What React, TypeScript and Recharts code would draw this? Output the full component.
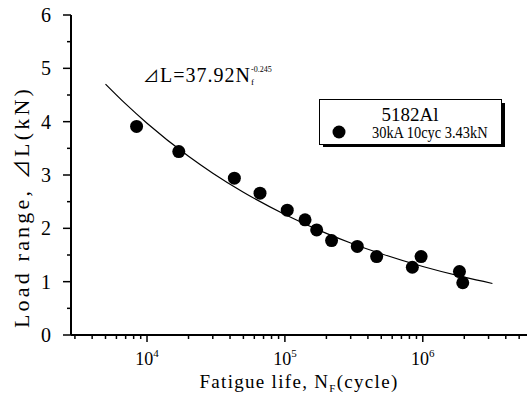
import React from 'react';
import { ComposedChart, Line, Scatter, XAxis, YAxis, Legend, Customized } from 'recharts';

// measured fatigue lives (cycles) and load ranges (kN)
const cycles = [8400, 17000, 43000, 66000, 104000, 140000, 170000, 218000, 335000, 463000, 840000, 972000, 1845000, 1950000];
const loadRange = [3.91, 3.44, 2.94, 2.66, 2.34, 2.16, 1.97, 1.77, 1.66, 1.47, 1.27, 1.47, 1.19, 0.98];

// fitted curve dL = 37.92 Nf^-0.245
const fitCycles = [5000, 7000, 10000, 20000, 30000, 50000, 100000, 200000, 300000, 500000, 1000000, 2000000, 3200000];
const fitLoad = [4.705, 4.333, 3.971, 3.351, 3.034, 2.677, 2.259, 1.906, 1.726, 1.523, 1.285, 1.084, 0.966];

const xTicks = [
  3000, 4000, 5000, 6000, 7000, 8000, 9000,
  10000, 20000, 30000, 40000, 50000, 60000, 70000, 80000, 90000,
  100000, 200000, 300000, 400000, 500000, 600000, 700000, 800000, 900000,
  1000000, 2000000, 3000000, 4000000, 5000000,
];
const decades = [10000, 100000, 1000000];
const decadeExp = ['4', '5', '6'];
const yTicks = [0, 0.5, 1, 1.5, 2, 2.5, 3, 3.5, 4, 4.5, 5, 5.5, 6];

const seriesName = '5182Al';
const conditionText = '30kA 10cyc 3.43kN';

const points = cycles.map((n, i) => ({ n, load: loadRange[i] }));
const fit = fitCycles.map((n, i) => ({ n, fit: fitLoad[i] }));

const FONT = "'Liberation Serif', 'Times New Roman', serif";
const DELTA_FONT = "'Noto Sans CJK JP', 'DejaVu Sans', sans-serif";
const serif = { fontFamily: FONT };
const delta = { fontFamily: DELTA_FONT };

const BottomTick = ({ x, y, payload }: any) => {
  const idx = decades.indexOf(payload.value);
  const major = idx >= 0;
  return (
    <g>
      <line x1={x} y1={y} x2={x} y2={y + (major ? 7 : 4)} stroke="#000" strokeWidth={1.5} />
      {major && (
        <text x={x} y={y + 30} textAnchor="middle" style={serif} fontSize={18} fill="#000">
          10<tspan dy={-8} fontSize={11}>{decadeExp[idx]}</tspan>
        </text>
      )}
    </g>
  );
};

const TopTick = ({ x, y, payload }: any) => {
  const major = decades.includes(payload.value);
  return <line x1={x} y1={y} x2={x} y2={y + (major ? 7 : 4)} stroke="#000" strokeWidth={1.5} />;
};

const LeftTick = ({ x, y, payload }: any) => {
  const whole = Number.isInteger(payload.value);
  return (
    <g>
      <line x1={x - (whole ? 8 : 4)} y1={y} x2={x} y2={y} stroke="#000" strokeWidth={1.5} />
      {whole && (
        <text x={x - 20} y={y + 7} textAnchor="end" style={serif} fontSize={20} fill="#000">
          {payload.value}
        </text>
      )}
    </g>
  );
};

const RightTick = ({ x, y, payload }: any) => {
  const whole = Number.isInteger(payload.value);
  return <line x1={x - (whole ? 6 : 3)} y1={y} x2={x} y2={y} stroke="#000" strokeWidth={1.5} />;
};

const Dot = ({ cx, cy }: any) => <circle cx={cx} cy={cy} r={6.5} fill="#000" />;

// framed legend with a solid drop shadow on the right and bottom
const LegendBox = ({ payload }: any) => {
  const item = (payload || []).find((p: any) => p.value === seriesName);
  return (
    <svg width={187} height={48}>
      <rect x={182} y={4} width={4} height={44} fill="#000" />
      <rect x={4} y={45} width={182} height={3} fill="#000" />
      <rect x={0.5} y={0.5} width={182} height={45} fill="#fff" stroke="#000" strokeWidth={1} />
      <text x={91} y={22} textAnchor="middle" style={serif} fontSize={19} fill="#000">
        {item ? item.value : seriesName}
      </text>
      <circle cx={20} cy={33} r={6.5} fill="#000" />
      <text
        x={0}
        y={0}
        transform="translate(53, 39) scale(0.9, 1)"
        style={serif}
        fontSize={16}
        fill="#000"
      >
        {conditionText}
      </text>
    </svg>
  );
};

const Annotations = () => (
  <g fill="#000">
    <text x={143} y={82} style={serif} fontSize={20} letterSpacing={1}>
      <tspan style={delta} fontSize={16}>⊿</tspan>L=37.92N
      <tspan dy={3} fontSize={9} letterSpacing={0}>f</tspan>
      <tspan dx={-3} dy={-13} fontSize={8} letterSpacing={0}>-0.245</tspan>
    </text>
    <text x={299} y={388} textAnchor="middle" style={serif} fontSize={19} letterSpacing={1.3}>
      Fatigue life, N<tspan dy={4} fontSize={11}>F</tspan><tspan dy={-4}>(cycle)</tspan>
    </text>
    <text transform="translate(29, 207) rotate(-90)" textAnchor="middle" style={serif} fontSize={22} letterSpacing={3.2}>
      Load range, <tspan style={delta} fontSize={19}>⊿</tspan>L(kN)
    </text>
  </g>
);

export default function App() {
  return (
    <div style={{ position: 'absolute', left: 0, top: 0, width: 527, height: 393, background: '#fff' }}>
      <ComposedChart width={527} height={393} margin={{ top: 15, right: 0, bottom: 0, left: 0 }}>
        <XAxis
          xAxisId="bottom"
          dataKey="n"
          type="number"
          scale="log"
          domain={[2810, 5700000]}
          allowDataOverflow
          ticks={xTicks}
          interval={0}
          height={58}
          tickSize={0}
          tickMargin={0}
          tickLine={false}
          tick={<BottomTick />}
          axisLine={{ stroke: '#000', strokeWidth: 2 }}
        />
        <XAxis
          xAxisId="top"
          dataKey="n"
          type="number"
          scale="log"
          orientation="top"
          mirror
          height={0}
          domain={[2810, 5700000]}
          allowDataOverflow
          ticks={xTicks}
          interval={0}
          tickSize={0}
          tickMargin={0}
          tickLine={false}
          tick={<TopTick />}
          axisLine={{ stroke: '#000', strokeWidth: 2 }}
        />
        <YAxis
          yAxisId="left"
          type="number"
          domain={[0, 6]}
          ticks={yTicks}
          interval={0}
          width={71}
          tickSize={0}
          tickMargin={0}
          tickLine={false}
          tick={<LeftTick />}
          axisLine={{ stroke: '#000', strokeWidth: 2 }}
        />
        <YAxis
          yAxisId="right"
          orientation="right"
          mirror
          type="number"
          domain={[0, 6]}
          ticks={yTicks}
          interval={0}
          width={0}
          tickSize={0}
          tickMargin={0}
          tickLine={false}
          tick={<RightTick />}
          axisLine={{ stroke: '#000', strokeWidth: 2 }}
        />
        <Line
          xAxisId="bottom"
          yAxisId="left"
          data={fit}
          dataKey="fit"
          type="monotone"
          stroke="#000"
          strokeWidth={1.2}
          dot={false}
          legendType="none"
          isAnimationActive={false}
        />
        <Scatter
          xAxisId="bottom"
          yAxisId="left"
          name={seriesName}
          data={points}
          dataKey="load"
          fill="#000"
          shape={<Dot />}
          isAnimationActive={false}
        />
        <Legend
          layout="vertical"
          align="center"
          verticalAlign="middle"
          content={<LegendBox />}
          wrapperStyle={{ left: 319, top: 99, width: 187, height: 48 }}
        />
        <Customized component={<Annotations />} />
      </ComposedChart>
    </div>
  );
}
